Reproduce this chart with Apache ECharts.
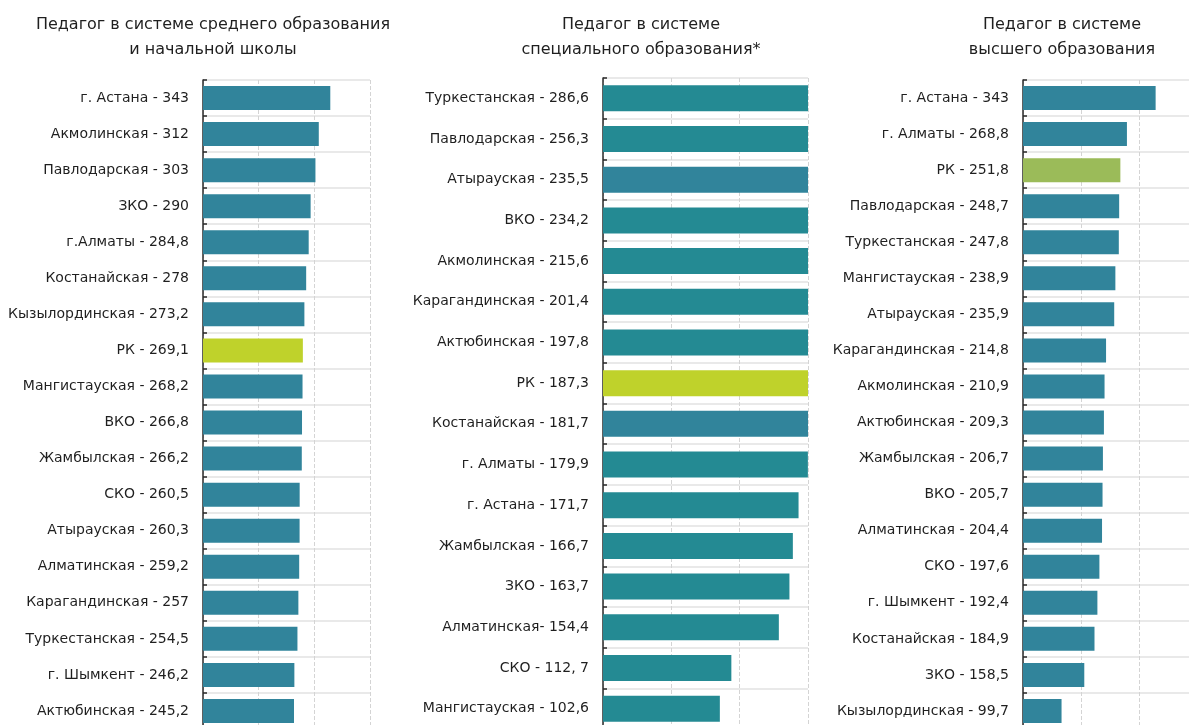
<!DOCTYPE html>
<html>
<head>
<meta charset="utf-8">
<script src="https://cdn.jsdelivr.net/npm/echarts@6/dist/echarts.min.js"></script>
<style>
html,body{margin:0;padding:0;background:#fff;overflow:hidden;}
#c{width:1210px;height:745px;}
</style>
</head>
<body>
<div id="c"></div>
<script>
// Panel 1: Педагог в системе среднего образования и начальной школы
const labels1 = ["г. Астана - 343","Акмолинская - 312","Павлодарская - 303","ЗКО - 290","г.Алматы - 284,8","Костанайская - 278","Кызылординская - 273,2","РК - 269,1","Мангистауская - 268,2","ВКО - 266,8","Жамбылская - 266,2","СКО - 260,5","Атырауская - 260,3","Алматинская - 259,2","Карагандинская - 257","Туркестанская - 254,5","г. Шымкент - 246,2","Актюбинская - 245,2"];
const values1 = [343,312,303,290,284.8,278,273.2,269.1,268.2,266.8,266.2,260.5,260.3,259.2,257,254.5,246.2,245.2];

// Panel 2: Педагог в системе специального образования*
const labels2 = ["Туркестанская - 286,6","Павлодарская - 256,3","Атырауская - 235,5","ВКО - 234,2","Акмолинская - 215,6","Карагандинская - 201,4","Актюбинская - 197,8","РК - 187,3","Костанайская - 181,7","г. Алматы - 179,9","г. Астана - 171,7","Жамбылская - 166,7","ЗКО - 163,7","Алматинская- 154,4","СКО - 112, 7","Мангистауская - 102,6"];
const values2 = [286.6,256.3,235.5,234.2,215.6,201.4,197.8,187.3,181.7,179.9,171.7,166.7,163.7,154.4,112.7,102.6];

// Panel 3: Педагог в системе высшего образования
const labels3 = ["г. Астана - 343","г. Алматы - 268,8","РК - 251,8","Павлодарская - 248,7","Туркестанская - 247,8","Мангистауская - 238,9","Атырауская - 235,9","Карагандинская - 214,8","Акмолинская - 210,9","Актюбинская - 209,3","Жамбылская - 206,7","ВКО - 205,7","Алматинская - 204,4","СКО - 197,6","г. Шымкент - 192,4","Костанайская - 184,9","ЗКО - 158,5","Кызылординская - 99,7"];
const values3 = [343,268.8,251.8,248.7,247.8,238.9,235.9,214.8,210.9,209.3,206.7,205.7,204.4,197.6,192.4,184.9,158.5,99.7];

const titles = ["Педагог в системе среднего образования\nи начальной школы","Педагог в системе\nспециального образования*","Педагог в системе\nвысшего образования"];

const FONT = "DejaVu Sans";
const TEAL = "#31849B";
const TEAL2 = "#248A93";
const HL1 = "#BFD22B";
const HL3 = "#9BBB59";

function colorFor(label, panel){
  if (label.indexOf("РК") === 0) return panel === 2 ? HL3 : HL1;
  if (panel === 1) {
    if (label.indexOf("Атырауская") === 0 || label.indexOf("Костанайская") === 0) return TEAL;
    return TEAL2;
  }
  return TEAL;
}

const grids = [
  {left:203, top:80, width:167, height:649},
  {left:603, top:78, width:205, height:651},
  {left:1023, top:80, width:174, height:649}
];
const maxes = [450,180,450];
const intervals = [150,60,150];
const allLabels = [labels1,labels2,labels3];
const allValues = [values1,values2,values3];
const barWidths = [24,26,24];
const centers = [208,636,1057];

const option = {
  backgroundColor:"#fff",
  animation:false,
  title: titles.map((t,i)=>({
    text:t, left:centers[i], top:7, textAlign:"center",
    textStyle:{fontFamily:FONT,fontSize:16,fontWeight:"normal",color:"#1f1f1f",lineHeight:25}
  })),
  grid: grids.map(g=>Object.assign({containLabel:false},g)),
  xAxis: grids.map((g,i)=>({
    type:"value", gridIndex:i, min:0, max:maxes[i], interval:intervals[i],
    axisLabel:{show:false}, axisLine:{show:false}, axisTick:{show:false},
    splitLine:{show:true,lineStyle:{color:"#d4d4d4",type:"dashed",width:1}}
  })),
  yAxis: grids.map((g,i)=>({
    type:"category", gridIndex:i, inverse:true, data:allLabels[i],
    axisLine:{show:true,lineStyle:{color:"#2a2a2a",width:1.5}},
    axisTick:{show:true,inside:true,length:4,lineStyle:{color:"#2a2a2a",width:1.5}},
    axisLabel:{fontFamily:FONT,fontSize:14,color:"#1f1f1f",margin:14},
    splitLine:{show:true,lineStyle:{color:"#e2e2e2",width:1.5}}
  })),
  series: allValues.map((vals,i)=>({
    type:"bar", xAxisIndex:i, yAxisIndex:i, barWidth:barWidths[i],
    clip:true,
    data: vals.map((v,k)=>({value:v,itemStyle:{color:colorFor(allLabels[i][k],i)}}))
  }))
};

const chart = echarts.init(document.getElementById("c"),null,{renderer:"canvas"});
chart.setOption(option);
</script>
</body>
</html>
